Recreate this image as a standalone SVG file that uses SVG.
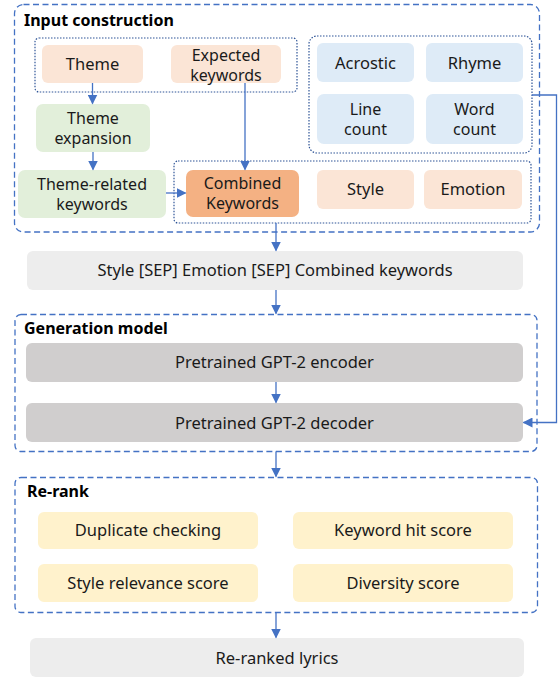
<svg xmlns="http://www.w3.org/2000/svg" width="558" height="680" viewBox="0 0 558 680">
<defs>
<style>
text{font-family:"Noto Sans","Open Sans","DejaVu Sans",sans-serif;font-size:16.5px;fill:#1a1a1a;text-anchor:middle}
.two{font-size:16px}
.title{font-weight:bold;font-size:16px;text-anchor:start;fill:#000}
.grp{fill:none;stroke:#4472c4;stroke-width:1.3;stroke-dasharray:6 3.5}
.dot{fill:none;stroke:#2f5597;stroke-width:1.2;stroke-dasharray:1.5 1.5}
.peach{fill:#fbe5d6}
.green{fill:#e2efda}
.orange{fill:#f4b183}
.blue{fill:#deebf7}
.yellow{fill:#fff2cc}
.lgray{fill:#ededed}
.dgray{fill:#d0cece}
.c{fill:none;stroke:#4472c4;stroke-width:1.3}
</style>
<marker id="ah" markerWidth="10" markerHeight="10" refX="9" refY="5" orient="auto" markerUnits="userSpaceOnUse">
<path d="M0,0 L10,5 L0,10 Z" fill="#4472c4"/>
</marker>
</defs>

<g id="group-input">
<rect class="grp" x="14.5" y="4.5" width="525" height="227.5" rx="9"/>
<text class="title" x="24" y="26">Input construction</text>
<rect class="dot" x="35" y="38" width="262" height="54" rx="4"/>
<rect class="dot" x="174" y="161" width="357" height="62" rx="4"/>
<rect class="dot" x="309" y="36" width="223" height="117" rx="8"/>
</g>

<g id="node-theme">
<rect class="peach" x="42" y="45" width="101" height="38" rx="6"/>
<text x="92.5" y="69.5">Theme</text>
</g>
<g id="node-expected">
<rect class="peach" x="171" y="45" width="110" height="38" rx="6"/>
<text class="two" x="226" y="60.5">Expected</text>
<text class="two" x="226" y="80.5">keywords</text>
</g>
<g id="node-expansion">
<rect class="green" x="36" y="104" width="114" height="48" rx="7"/>
<text class="two" x="93" y="124">Theme</text>
<text class="two" x="93" y="144">expansion</text>
</g>
<g id="node-related">
<rect class="green" x="18" y="170" width="148" height="48" rx="7"/>
<text class="two" x="92" y="189.5">Theme-related</text>
<text class="two" x="92" y="209.5">keywords</text>
</g>
<g id="node-combined">
<rect class="orange" x="186" y="170" width="113" height="47" rx="7"/>
<text class="two" x="242.5" y="189">Combined</text>
<text class="two" x="242.5" y="209">Keywords</text>
</g>
<g id="node-style">
<rect class="peach" x="317" y="170" width="97" height="39" rx="6"/>
<text x="365.5" y="195">Style</text>
</g>
<g id="node-emotion">
<rect class="peach" x="424" y="170" width="98" height="39" rx="6"/>
<text x="473" y="194.5">Emotion</text>
</g>
<g id="node-acrostic">
<rect class="blue" x="317" y="43" width="97" height="39" rx="6"/>
<text x="365.5" y="68.5">Acrostic</text>
</g>
<g id="node-rhyme">
<rect class="blue" x="426" y="43" width="97" height="39" rx="6"/>
<text x="474.5" y="68.5">Rhyme</text>
</g>
<g id="node-linecount">
<rect class="blue" x="317" y="94" width="97" height="50" rx="7"/>
<text class="two" x="365.5" y="115">Line</text>
<text class="two" x="365.5" y="135">count</text>
</g>
<g id="node-wordcount">
<rect class="blue" x="426" y="94" width="97" height="50" rx="7"/>
<text class="two" x="474.5" y="115">Word</text>
<text class="two" x="474.5" y="135">count</text>
</g>

<g id="node-sep">
<rect class="lgray" x="27" y="251" width="496" height="39" rx="6"/>
<text x="275" y="276">Style [SEP] Emotion [SEP] Combined keywords</text>
</g>

<g id="group-generation">
<rect class="grp" x="15" y="314.5" width="522" height="137" rx="6"/>
<text class="title" x="24" y="334">Generation model</text>
</g>
<g id="node-encoder">
<rect class="dgray" x="26" y="343" width="497" height="39" rx="6"/>
<text x="274.5" y="368">Pretrained GPT-2 encoder</text>
</g>
<g id="node-decoder">
<rect class="dgray" x="26" y="403" width="497" height="39" rx="6"/>
<text x="274.5" y="428.5">Pretrained GPT-2 decoder</text>
</g>

<g id="group-rerank">
<rect class="grp" x="15" y="477.5" width="522.5" height="135" rx="6"/>
<text class="title" x="27" y="497">Re-rank</text>
</g>
<g id="node-duplicate">
<rect class="yellow" x="38" y="512" width="220" height="37" rx="6"/>
<text x="148" y="536">Duplicate checking</text>
</g>
<g id="node-keywordhit">
<rect class="yellow" x="293" y="512" width="220" height="37" rx="6"/>
<text x="403" y="536">Keyword hit score</text>
</g>
<g id="node-stylerel">
<rect class="yellow" x="38" y="564" width="220" height="38" rx="6"/>
<text x="148" y="589">Style relevance score</text>
</g>
<g id="node-diversity">
<rect class="yellow" x="293" y="564" width="220" height="38" rx="6"/>
<text x="403" y="589">Diversity score</text>
</g>

<g id="node-lyrics">
<rect class="lgray" x="30" y="638" width="494" height="39" rx="6"/>
<text x="277" y="663.5">Re-ranked lyrics</text>
</g>

<g id="connectors">
<path class="c" d="M92.5,83 V103.5" marker-end="url(#ah)"/>
<path class="c" d="M93,152 V169.5" marker-end="url(#ah)"/>
<path class="c" d="M166,193 H185.5" marker-end="url(#ah)"/>
<path class="c" d="M245,83 V169.5" marker-end="url(#ah)"/>
<path class="c" d="M276,223 V250.5" marker-end="url(#ah)"/>
<path class="c" d="M276,290 V313.5" marker-end="url(#ah)"/>
<path class="c" d="M276,382 V402.5" marker-end="url(#ah)"/>
<path class="c" d="M276,451.5 V476.5" marker-end="url(#ah)"/>
<path class="c" d="M276,612.5 V637.5" marker-end="url(#ah)"/>
<path class="c" d="M532,95 H556.5 V422.5 H523.5" marker-end="url(#ah)"/>
</g>
</svg>
